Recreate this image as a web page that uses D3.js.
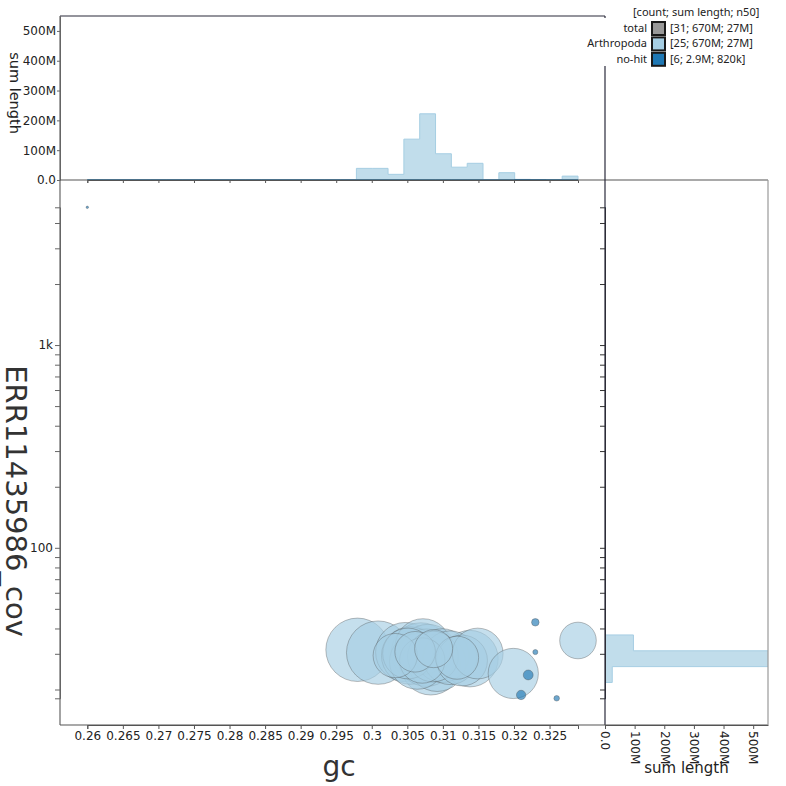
<!DOCTYPE html>
<html><head><meta charset="utf-8">
<script src="https://cdn.jsdelivr.net/npm/d3@7"></script>
<style>body{margin:0;background:#fff}svg{display:block}</style>
</head><body>
<script>
// ---- data ----
// Arthropoda contigs: gc, coverage, length (Mb)
const arthGc  = [0.2980,0.3009,0.3033,0.3047,0.3051,0.3054,0.3061,0.3064,0.3069,0.3072,0.3077,0.3079,0.3083,0.3086,0.3071,0.3087,0.3092,0.3099,0.3110,0.3120,0.3127,0.3138,0.3149,0.3199,0.3290];
const arthCov = [31.4,30.4,29.4,30.6,30.1,29.4,30.7,27.5,30.5,32.6,28.7,30.1,26.3,29.1,27.8,31.8,27.1,29.4,28.7,28.7,27.8,28.4,30.1,24.0,34.9];
const arthLen = [39,39,19,34,25,32,16,30,34,30,32,33,34,25,20,14,32,28,28,18,25,31,25,24.5,13];
// no-hit contigs
const nohitGc  = [0.2600,0.3230,0.3230,0.3220,0.3210,0.3260];
const nohitCov = [4780,42.9,30.6,23.6,18.8,18.1];
const nohitLen = [0.02,0.55,0.25,0.95,0.85,0.3];

const categories = ['Arthropoda','no-hit'];
const catColors  = ['#a6cee3','#1f78b4'];
const legendLabels = ['total','Arthropoda','no-hit'];
const legendValues = ['[31; 670M; 27M]','[25; 670M; 27M]','[6; 2.9M; 820k]'];
const legendColors = ['#999999','#a6cee3','#1f78b4'];
const histTicks = [0,100,200,300,400,500]; // Mb
const nBins = 31;

// ---- build point table ----
const pts = [];
arthGc.forEach((g,i)=>pts.push({cat:0,gc:g,cov:arthCov[i],len:arthLen[i]}));
nohitGc.forEach((g,i)=>pts.push({cat:1,gc:g,cov:nohitCov[i],len:nohitLen[i]}));

const W=786,H=786;
const L=60,R=605,T=180,B=725,HT=16,HR=768;
const svg=d3.select('body').append('svg').attr('width',W).attr('height',H)
  .style('font-family','"DejaVu Sans", sans-serif');

const x=d3.scaleLinear().domain(d3.extent(pts,d=>d.gc)).range([87.3,578]);
const y=d3.scaleLog().domain(d3.extent(pts,d=>d.cov)).range([698.3,207.3]);
const r=d3.scaleSqrt().domain([0,39]).range([0,31.7]);
const hy=d3.scaleLinear().domain([0,550]).range([T,HT]);
const hx=d3.scaleLinear().domain([0,550]).range([R,HR]);

const defs=svg.append('defs');
defs.append('clipPath').attr('id','cTop').append('rect').attr('x',L).attr('y',HT).attr('width',R-L).attr('height',T-HT);
defs.append('clipPath').attr('id','cRight').append('rect').attr('x',R).attr('y',T).attr('width',HR-R).attr('height',B-T);
defs.append('clipPath').attr('id','cMain').append('rect').attr('x',L).attr('y',T).attr('width',R-L).attr('height',B-T);

// ---- top histogram (gc) ----
const [g0,g1]=x.domain();
const gThr=d3.range(1,nBins).map(i=>g0+i*(g1-g0)/nBins);
const gBin=d3.bin().value(d=>d.gc).domain([g0,g1]).thresholds(gThr);
const topG=svg.append('g').attr('clip-path','url(#cTop)');
categories.forEach((c,ci)=>{
  const bins=gBin(pts.filter(p=>p.cat===ci));
  let dstr=`M${x(g0)},${hy(0)}`;
  bins.forEach(b=>{const s=d3.sum(b,p=>p.len);dstr+=`L${x(b.x0)},${hy(s)}L${x(b.x1)},${hy(s)}`;});
  dstr+=`L${x(g1)},${hy(0)}Z`;
  topG.append('path').attr('d',dstr).attr('fill',catColors[ci]).attr('fill-opacity',0.7)
    .attr('stroke',catColors[ci]).attr('stroke-width',1);
});

// ---- right histogram (cov) ----
const [c0,c1]=y.domain().map(Math.log10);
const cThr=d3.range(1,nBins).map(i=>c0+i*(c1-c0)/nBins);
const cBin=d3.bin().value(d=>Math.log10(d.cov)).domain([c0,c1]).thresholds(cThr);
const rightG=svg.append('g').attr('clip-path','url(#cRight)');
categories.forEach((c,ci)=>{
  const bins=cBin(pts.filter(p=>p.cat===ci));
  let dstr=`M${hx(0)},${y(10**c0)}`;
  bins.forEach(b=>{const s=d3.sum(b,p=>p.len);dstr+=`L${hx(s)},${y(10**b.x0)}L${hx(s)},${y(10**b.x1)}`;});
  dstr+=`L${hx(0)},${y(10**c1)}Z`;
  rightG.append('path').attr('d',dstr).attr('fill',catColors[ci]).attr('fill-opacity',0.7)
    .attr('stroke',catColors[ci]).attr('stroke-width',1);
});

// ---- main scatter ----
const mainG=svg.append('g').attr('clip-path','url(#cMain)');
mainG.selectAll('circle').data(pts.slice().sort((a,b)=>b.len-a.len)).join('circle')
  .attr('cx',d=>x(d.gc)).attr('cy',d=>y(d.cov)).attr('r',d=>Math.max(1.2,r(d.len)))
  .attr('fill',d=>catColors[d.cat]).attr('fill-opacity',0.65)
  .attr('stroke','#4d4d4d').attr('stroke-opacity',0.45).attr('stroke-width',0.8);

// ---- axes ----
function styleAx(g,col){g.selectAll('path,line').attr('stroke',col);g.selectAll('text').attr('fill','#222').style('font-size','12px').style('font-family','"DejaVu Sans", sans-serif');}
const xt=x.ticks(14);
const fmtX=d=>String(+d.toFixed(3));
// main bottom
svg.append('g').attr('transform',`translate(0,${B})`)
  .call(d3.axisBottom(x).tickValues(xt).tickFormat(fmtX).tickSize(4).tickSizeOuter(4).tickPadding(2))
  .call(g=>styleAx(g,'#555'));
// top-hist bottom (ticks only)
svg.append('g').attr('transform',`translate(0,${T})`)
  .call(d3.axisBottom(x).tickValues(xt).tickFormat('').tickSize(3).tickSizeOuter(3))
  .call(g=>styleAx(g,'#555'));
// main left
const yt=y.ticks();
const isMajor=d=>Math.abs(Math.log10(d)-Math.round(Math.log10(d)))<1e-9;
svg.append('g').attr('transform',`translate(${L},0)`)
  .call(d3.axisLeft(y).tickValues(yt).tickFormat(d=>isMajor(d)?d3.format('~s')(d):'').tickSize(5).tickSizeOuter(5).tickPadding(2))
  .call(g=>styleAx(g,'#666'));
// right-hist left (ticks only)
svg.append('g').attr('transform',`translate(${R},0)`)
  .call(d3.axisLeft(y).tickValues(yt).tickFormat('').tickSize(5).tickSizeOuter(5))
  .call(g=>styleAx(g,'#333'));
// top-hist left
const fmtM=d=>d===0?'0.0':d+'M';
svg.append('g').attr('transform',`translate(${L},0)`)
  .call(d3.axisLeft(hy).tickValues(histTicks).tickFormat(fmtM).tickSize(3).tickSizeOuter(0).tickPadding(1))
  .call(g=>styleAx(g,'#666'));
// right-hist bottom
svg.append('g').attr('transform',`translate(0,${B})`)
  .call(d3.axisBottom(hx).tickValues(histTicks).tickFormat(fmtM).tickSize(4).tickSizeOuter(0).tickPadding(2))
  .call(g=>styleAx(g,'#555'))
  .call(g=>g.selectAll('text').attr('y',0).attr('x',6).attr('dy','0.35em').attr('transform','rotate(90)').style('text-anchor','start'));

// ---- frame lines ----
const fr=svg.append('g').attr('fill','none');
const seg=(x1,y1,x2,y2,c)=>fr.append('line').attr('x1',x1).attr('y1',y1).attr('x2',x2).attr('y2',y2).attr('stroke',c).attr('stroke-width',1.2);
seg(L,HT,R,HT,'#2b2b3b');
seg(L,HT,L,B,'#666');
seg(L,T,HR,T,'#555');
seg(R,HT,R,B,'#2b2b3b');
seg(L,B,HR,B,'#555');
seg(HR,T,HR,B,'#999');

// ---- titles ----
svg.append('text').attr('x',339).attr('y',776).attr('text-anchor','middle').style('font-size','28px').attr('fill','#333').text('gc');
svg.append('text').attr('transform','translate(16,501) rotate(90)').attr('text-anchor','middle').attr('dy','0.35em').style('font-size','29px').attr('fill','#333').text('ERR11435986_cov');
svg.append('text').attr('transform','translate(15.5,93) rotate(90)').attr('text-anchor','middle').attr('dy','0.35em').style('font-size','14.5px').attr('fill','#222').text('sum length');
svg.append('text').attr('x',686.5).attr('y',773).attr('text-anchor','middle').style('font-size','15px').attr('fill','#222').text('sum length');

// ---- legend ----
const lg=svg.append('g').style('font-family','"Noto Sans", sans-serif').style('font-size','11px');
lg.append('rect').attr('x',603).attr('y',18).attr('width',183).attr('height',48).attr('fill','#fff');
lg.append('text').attr('x',633).attr('y',16).attr('fill','#222').text('[count; sum length; n50]');
legendLabels.forEach((lab,i)=>{
  const yy=22+i*15.4;
  lg.append('text').attr('x',647).attr('y',yy+10).attr('text-anchor','end').attr('fill','#222').text(lab);
  lg.append('rect').attr('x',652).attr('y',yy).attr('width',13).attr('height',13)
    .attr('fill',legendColors[i]).attr('stroke','#1a1a1a').attr('stroke-width',2);
  lg.append('text').attr('x',670).attr('y',yy+10).attr('fill','#222').text(legendValues[i]);
});
</script>
</body></html>
